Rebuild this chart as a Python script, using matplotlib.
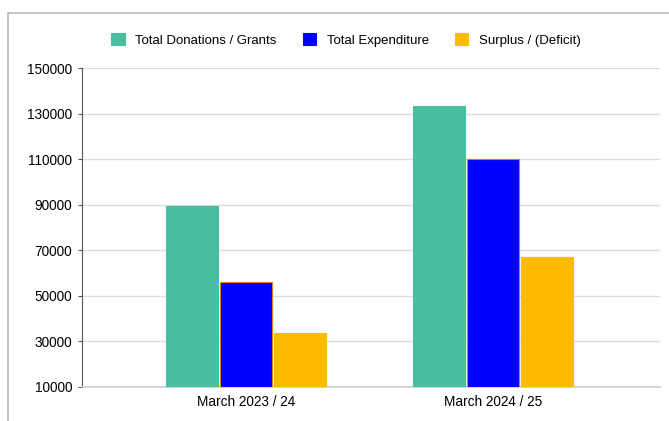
import matplotlib.pyplot as plt
import numpy as np
from matplotlib.patches import Rectangle

periods = ["March 2023 / 24", "March 2024 / 25"]
series_names = ["Total Donations / Grants", "Total Expenditure", "Surplus / (Deficit)"]
donations = [89500, 133500]
expenditure = [56000, 110000]
surplus = [33500, 67000]
yticks = list(range(10000, 150001, 20000))

colors = ["#48BFA0", "#0000FF", "#FFBB00"]
edges = ["#48BFA0", "#E07A20", "#FFBB00"]

plt.rcParams['font.family'] = ['Liberation Sans', 'DejaVu Sans']

W, H = 669, 421
fig = plt.figure(figsize=(W / 100, H / 100), dpi=100)

# screenshot frame
fig.add_artist(Rectangle((8 / W, -0.1), 1.2, 1.1 - 13 / H, transform=fig.transFigure,
                         fill=False, edgecolor="#BBBBBB", linewidth=1.2))

ax = fig.add_axes([82 / W, 1 - 387 / H, (660 - 82) / W, (387 - 68) / H])

x = np.arange(len(periods))
width = 0.21
gap = 0.218
for i, (vals, name) in enumerate(zip([donations, expenditure, surplus], series_names)):
    ax.bar(x + (i - 1) * gap, np.array(vals) - 10000, width, bottom=10000,
           color=colors[i], edgecolor=edges[i], linewidth=0.8, label=name, zorder=3)

ax.set_ylim(10000, 150000)
ax.set_xlim(-0.664, 1.676)
ax.set_yticks(yticks)
ax.set_yticklabels([str(v) for v in yticks], fontsize=9.8)
ax.set_xticks(x)
ax.set_xticklabels(periods, fontsize=9.8)
ax.tick_params(axis='x', length=0, pad=6)
ax.tick_params(axis='y', length=3, color="#555555", pad=4)
ax.grid(axis='y', color="#DDDDDD", linewidth=1, zorder=0)
for s in ["top", "right"]:
    ax.spines[s].set_visible(False)
ax.spines["left"].set_color("#555555")
ax.spines["bottom"].set_color("#CCCCCC")
ax.spines["bottom"].set_linewidth(1.2)

leg = fig.legend(loc="center", bbox_to_anchor=(346 / W, 1 - 40 / H), ncol=3, frameon=False,
                 fontsize=9.5, handlelength=1.0, handleheight=1.0, columnspacing=2.0,
                 handletextpad=0.8)
for h, c in zip(leg.legend_handles, colors):
    h.set_edgecolor(c)

fig.savefig("out.png", dpi=100)
